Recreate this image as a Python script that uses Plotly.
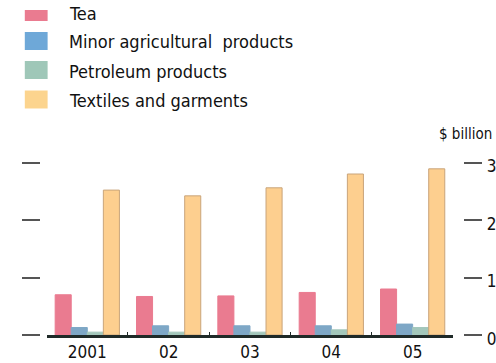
import plotly.graph_objects as go

years = ["2001", "02", "03", "04", "05"]
series_names = ["Tea", "Minor agricultural  products", "Petroleum products", "Textiles and garments"]
tea = [0.70, 0.67, 0.68, 0.74, 0.80]
minor = [0.13, 0.16, 0.16, 0.16, 0.19]
petroleum = [0.05, 0.05, 0.05, 0.09, 0.13]
textiles = [2.52, 2.42, 2.56, 2.80, 2.89]
y_ticks = [0, 1, 2, 3]

values = [tea, minor, petroleum, textiles]
fills = ["#ea7b90", "#7ea7c6", "#a3c7bb", "#fdcf8f"]
lines = ["#ea7b90", "#7ea7c6", "#a3c7bb", "#c9a47a"]
swatch = ["#ea7b90", "#6ea8d8", "#9fc7b8", "#fcd48e"]

FONT = "DejaVu Sans Condensed, Liberation Sans Narrow, Arial Narrow, sans-serif"
W, H = 496, 363
TOP, BOT = 151, 335  # plot area top / bottom in pixels


def py(p):
    """pixel row -> paper y (relative to plot area)"""
    return (BOT - p) / (BOT - TOP)


fig = go.Figure()
for name, vals, fc, lc in zip(series_names, values, fills, lines):
    fig.add_trace(go.Bar(x=years, y=vals, name=name, marker=dict(color=fc, line=dict(color=lc, width=1)),
                         showlegend=False))

x0p, x1p = 47 / W, 457 / W
fig.update_layout(
    width=W, height=H,
    margin=dict(l=0, r=0, t=TOP, b=H - BOT),
    paper_bgcolor="white", plot_bgcolor="white",
    barmode="group", bargap=0.21, bargroupgap=0,
    font=dict(family=FONT, size=13, color="#1a1a1a"),
    xaxis=dict(domain=[x0p, x1p], range=[-0.5, 4.5], showline=True, linecolor="#1f2a28", linewidth=3,
               ticks="inside", tickson="boundaries", ticklen=3, tickcolor="#1f2a28", tickwidth=1,
               tickfont=dict(family=FONT, size=17, color="#111"), showgrid=False, zeroline=False),
    yaxis=dict(range=[0, 3.2], anchor="free", position=40 / W, tickvals=y_ticks, ticks="outside",
               ticklen=18, tickcolor="#555", tickwidth=1.5, showticklabels=False, showgrid=False,
               zeroline=False, showline=False),
    yaxis2=dict(range=[0, 3.2], overlaying="y", side="right", anchor="free", position=467 / W,
                tickvals=y_ticks, ticks="outside", ticklen=18, tickcolor="#555", tickwidth=1.5,
                ticklabelstandoff=1, ticklabelshift=4, showgrid=False, zeroline=False, showline=False,
                tickfont=dict(family=FONT, size=17, color="#111")),
)
# invisible trace so yaxis2 is drawn
fig.add_trace(go.Scatter(x=[years[0]], y=[0], yaxis="y2", mode="markers",
                         marker=dict(opacity=0), showlegend=False, hoverinfo="skip"))

fig.add_annotation(text="$ billion", xref="paper", yref="paper", x=1.0, y=py(134),
                   xanchor="right", yanchor="middle", showarrow=False, xshift=2,
                   font=dict(family=FONT, size=15, color="#111"))

# manual legend
centers = [12, 41, 70, 99.5]
for name, c, cy in zip(series_names, swatch, centers):
    fig.add_shape(type="rect", xref="paper", yref="paper", x0=25 / W, x1=48 / W,
                  y0=py(cy - 9), y1=py(cy + 9), fillcolor=c, line=dict(width=0))
    fig.add_annotation(text=name, xref="paper", yref="paper", x=68 / W, y=py(cy + 1),
                       xanchor="left", yanchor="middle", showarrow=False,
                       font=dict(family=FONT, size=18, color="#111"))
# cropped top edge as in reference
fig.add_shape(type="rect", xref="paper", yref="paper", x0=0, x1=1, y0=py(0), y1=py(10),
              fillcolor="white", line=dict(width=0), layer="above")

fig.write_html("out.html")
